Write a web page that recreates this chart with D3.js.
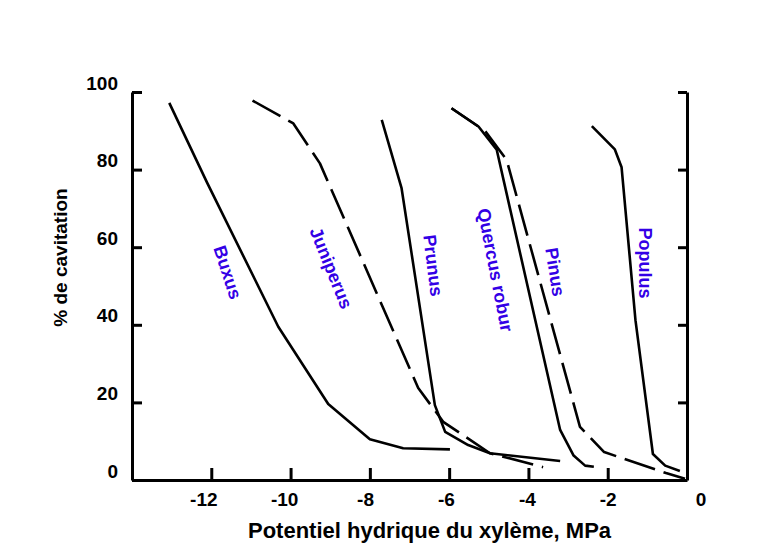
<!DOCTYPE html>
<html>
<head>
<meta charset="utf-8">
<script src="https://cdn.jsdelivr.net/npm/d3@7"></script>
<style>
  html, body { margin: 0; padding: 0; background: #fff; }
  svg { display: block; }
  text { font-family: "Liberation Sans", Arial, sans-serif; font-weight: bold; }
</style>
</head>
<body>
<svg id="chart" width="771" height="552"></svg>
<script>
// ---- data (MPa, % cavitation) ----
const buxusX     = [-13.06, -12.10, -10.31, -9.05, -8.00, -7.16, -5.98];
const buxusY     = [97.2, 76.5, 39.5, 19.6, 10.5, 8.2, 7.9];
const juniperusX = [-10.96, -9.93, -9.26, -6.78, -6.15, -4.97, -3.63];
const juniperusY = [97.8, 91.9, 81.6, 23.7, 15.0, 6.9, 3.3];
const prunusX    = [-7.70, -7.20, -6.36, -6.10, -5.52, -4.97, -3.20];
const prunusY    = [92.8, 75.2, 19.3, 12.4, 9.0, 6.9, 4.9];
const quercusX   = [-5.94, -5.26, -4.80, -3.20, -2.86, -2.57, -2.35];
const quercusY   = [95.8, 91.1, 85.1, 12.9, 6.3, 3.7, 3.4];
const pinusX     = [-5.94, -5.26, -5.09, -4.55, -2.70, -2.09, -0.53, -0.05];
const pinusY     = [95.8, 91.1, 89.9, 82.5, 13.7, 7.2, 1.8, 0.3];
const populusX   = [-2.40, -1.82, -1.65, -1.30, -0.86, -0.55, -0.18];
const populusY   = [91.2, 85.2, 80.6, 41.2, 6.7, 3.7, 2.3];

const seriesNames  = ["Buxus", "Juniperus", "Prunus", "Quercus robur", "Pinus", "Populus"];
const seriesDashed = [false, true, false, false, true, false];
// label anchor in data units and its rotation
const labelX     = [-11.59, -8.98, -6.41, -4.84, -3.33, -1.06];
const labelY     = [53.5, 54.6, 55.3, 54.1, 53.6, 55.9];
const labelAngle = [72, 68, 83, 79, 81, 90];

const xTicks = [-12, -10, -8, -6, -4, -2, 0];
const yTicks = [0, 20, 40, 60, 80, 100];
const xTitle = "Potentiel hydrique du xylème, MPa";
const yTitle = "% de cavitation";

const seriesX = [buxusX, juniperusX, prunusX, quercusX, pinusX, populusX];
const seriesY = [buxusY, juniperusY, prunusY, quercusY, pinusY, populusY];

// ---- layout ----
(function draw() {
const svg = d3.select("#chart");
const mLeft = 132, mRight = 687, mTop = 92, mBottom = 480;
const x = d3.scaleLinear().domain([-14, 0]).range([mLeft, mRight]);
const y = d3.scaleLinear().domain([0, 100]).range([mBottom, mTop]);

svg.append("rect").attr("width", 771).attr("height", 552).attr("fill", "#fff");

// axes
const axLeft = svg.append("g").attr("transform", `translate(${mLeft},0)`)
  .call(d3.axisLeft(y).tickValues(yTicks).tickSizeInner(-10).tickSizeOuter(0).tickPadding(14));
axLeft.selectAll("text").attr("dy", null).attr("y", -9.5).attr("dominant-baseline", "central");

const axRight = svg.append("g").attr("transform", `translate(${mRight},0)`)
  .call(d3.axisRight(y).tickValues(yTicks).tickSizeInner(-9).tickSizeOuter(0).tickFormat(""));

const axBottom = svg.append("g").attr("transform", `translate(0,${mBottom})`)
  .call(d3.axisBottom(x).tickValues(xTicks.filter(v => v !== 0)).tickSizeInner(-12).tickSizeOuter(0)
        .tickFormat(d => String(d)));
axBottom.selectAll("text").attr("dy", null).attr("y", 19).attr("dominant-baseline", "central")
  .attr("dx", d => (d + 2) * 0.8);
// "0" label beyond the right axis
axBottom.append("text").attr("x", x(0) + 14).attr("y", 19).attr("dominant-baseline", "central")
  .attr("text-anchor", "middle").attr("fill", "#000").text("0");

[axLeft, axRight, axBottom].forEach(g => {
  g.selectAll(".domain").attr("stroke", "#000").attr("stroke-width", 3);
  g.selectAll(".tick line").attr("stroke", "#000").attr("stroke-width", 3);
  g.selectAll("text").attr("font-size", 19).attr("font-weight", "bold").attr("fill", "#000")
    .attr("font-family", '"Liberation Sans", Arial, sans-serif');
});

// curves
const line = d3.line().x(d => x(d[0])).y(d => y(d[1]));
seriesNames.forEach((name, i) => {
  const pts = seriesX[i].map((v, j) => [v, seriesY[i][j]]);
  svg.append("path").datum(pts)
    .attr("d", line)
    .attr("fill", "none")
    .attr("stroke", "#000")
    .attr("stroke-width", 2.6)
    .attr("stroke-linejoin", "round")
    .attr("stroke-dasharray", seriesDashed[i] ? "32,9" : null);
});

// labels
seriesNames.forEach((name, i) => {
  svg.append("text")
    .attr("transform", `translate(${x(labelX[i])},${y(labelY[i])}) rotate(${labelAngle[i]})`)
    .attr("text-anchor", "middle")
    .attr("dominant-baseline", "central")
    .attr("font-size", 18)
    .attr("fill", "#3300e6")
    .text(name);
});

// titles
svg.append("text")
  .attr("x", 429.5).attr("y", 538)
  .attr("text-anchor", "middle")
  .attr("font-size", 22)
  .attr("fill", "#000")
  .text(xTitle);

svg.append("text")
  .attr("transform", `translate(66.5,257.5) rotate(-90)`)
  .attr("text-anchor", "middle")
  .attr("font-size", 19)
  .attr("fill", "#000")
  .text(yTitle);
})();
</script>
</body>
</html>
